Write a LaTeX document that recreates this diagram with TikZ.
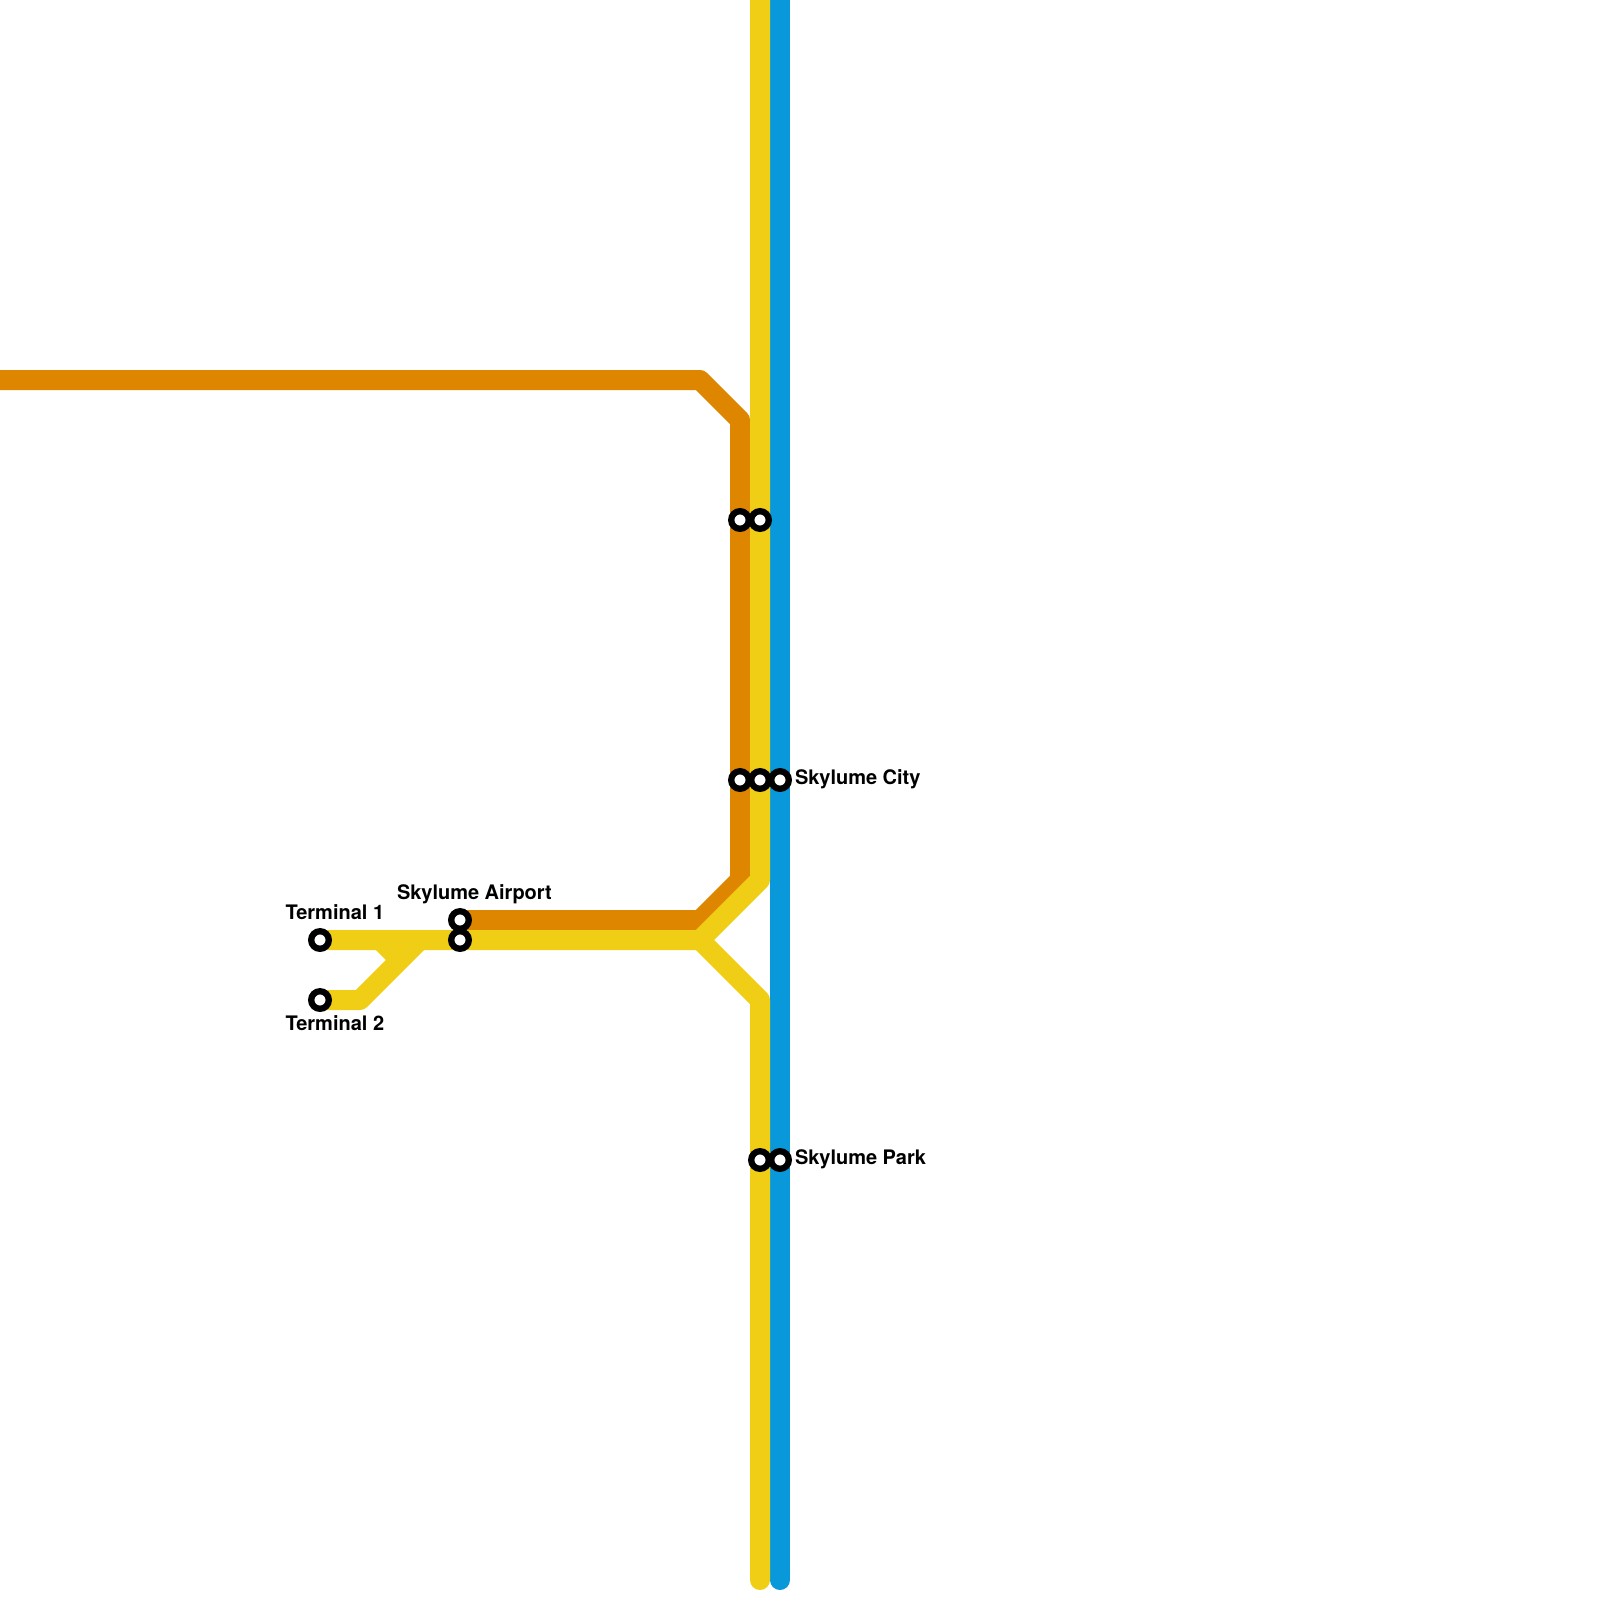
\documentclass[tikz,border=0pt]{standalone}
\usepackage{fontspec}
\setmainfont{TeX Gyre Heros}
\tikzset{
  route/.style={line width=20pt,line join=round,line cap=butt},
  routeend/.style={route,line cap=round},
  stn/.style={circle,draw=black,fill=white,line width=6.3pt,minimum size=17.6pt,inner sep=0pt,outer sep=0pt},
  lbl/.style={inner sep=0pt,outer sep=0pt,anchor=base west,text=black,font=\fontsize{20}{24}\selectfont\bfseries},
}
\definecolor{lineorange}{HTML}{DF8600}
\definecolor{lineyellow}{HTML}{F0CE15}
\definecolor{lineblue}{HTML}{0998D9}
\begin{document}
\begin{tikzpicture}[x=1pt,y=-1pt]
\useasboundingbox (0,0) rectangle (1600,1600);
% free ends and bends
\coordinate (ow) at (0,380);
\coordinate (o1) at (700,380);
\coordinate (o2) at (740,420);
\coordinate (o3) at (740,880);
\coordinate (o4) at (700,920);
\coordinate (oe) at (460,920);
\coordinate (yt) at (760,0);
\coordinate (y1) at (760,880);
\coordinate (yj) at (700,940);
\coordinate (yw) at (320,940);
\coordinate (y2) at (760,1000);
\coordinate (yb) at (760,1580);
\coordinate (bt) at (780,0);
\coordinate (bm) at (780,1400);
\coordinate (bb) at (780,1580);
\coordinate (t0) at (320,1000);
\coordinate (t1) at (360,1000);
\coordinate (t2) at (420,940);
\coordinate (t3) at (400,960);
\coordinate (t4) at (380,940);
% routes
\draw[route,lineblue] (bt) -- (bm);
\draw[routeend,lineblue] (bm) -- (bb);
\draw[route,lineorange] (ow) -- (o1) -- (o2) -- (o3) -- (o4) -- (oe);
\draw[route,lineyellow] (yt) -- (y1) -- (yj) -- (yw);
\draw[routeend,lineyellow] (yj) -- (y2) -- (yb);
\draw[route,lineyellow] (t0) -- (t1) -- (t2);
\draw[route,lineyellow] (t4) -- (t3);
% station markers
\node[stn] (so1) at (740,520) {};
\node[stn] (sy1) at (760,520) {};
\node[stn] (so2) at (740,780) {};
\node[stn] (sy2) at (760,780) {};
\node[stn] (sb2) at (780,780) {};
\node[stn] (sy3) at (760,1160) {};
\node[stn] (sb3) at (780,1160) {};
\node[stn] (sa1) at (460,920) {};
\node[stn] (sa2) at (460,940) {};
\node[stn] (st1) at (320,940) {};
\node[stn] (st2) at (320,1000) {};
% labels
\node[lbl] (lcity) at (795,784.6) {Skylume City};
\node[lbl] (lpark) at (795,1164.6) {Skylume Park};
\node[lbl] (lair) at (397,899.6) {Skylume Airport};
\node[lbl] (lt1) at (285.5,919.6) {Terminal 1};
\node[lbl] (lt2) at (285.5,1030) {Terminal 2};
\end{tikzpicture}
\end{document}
